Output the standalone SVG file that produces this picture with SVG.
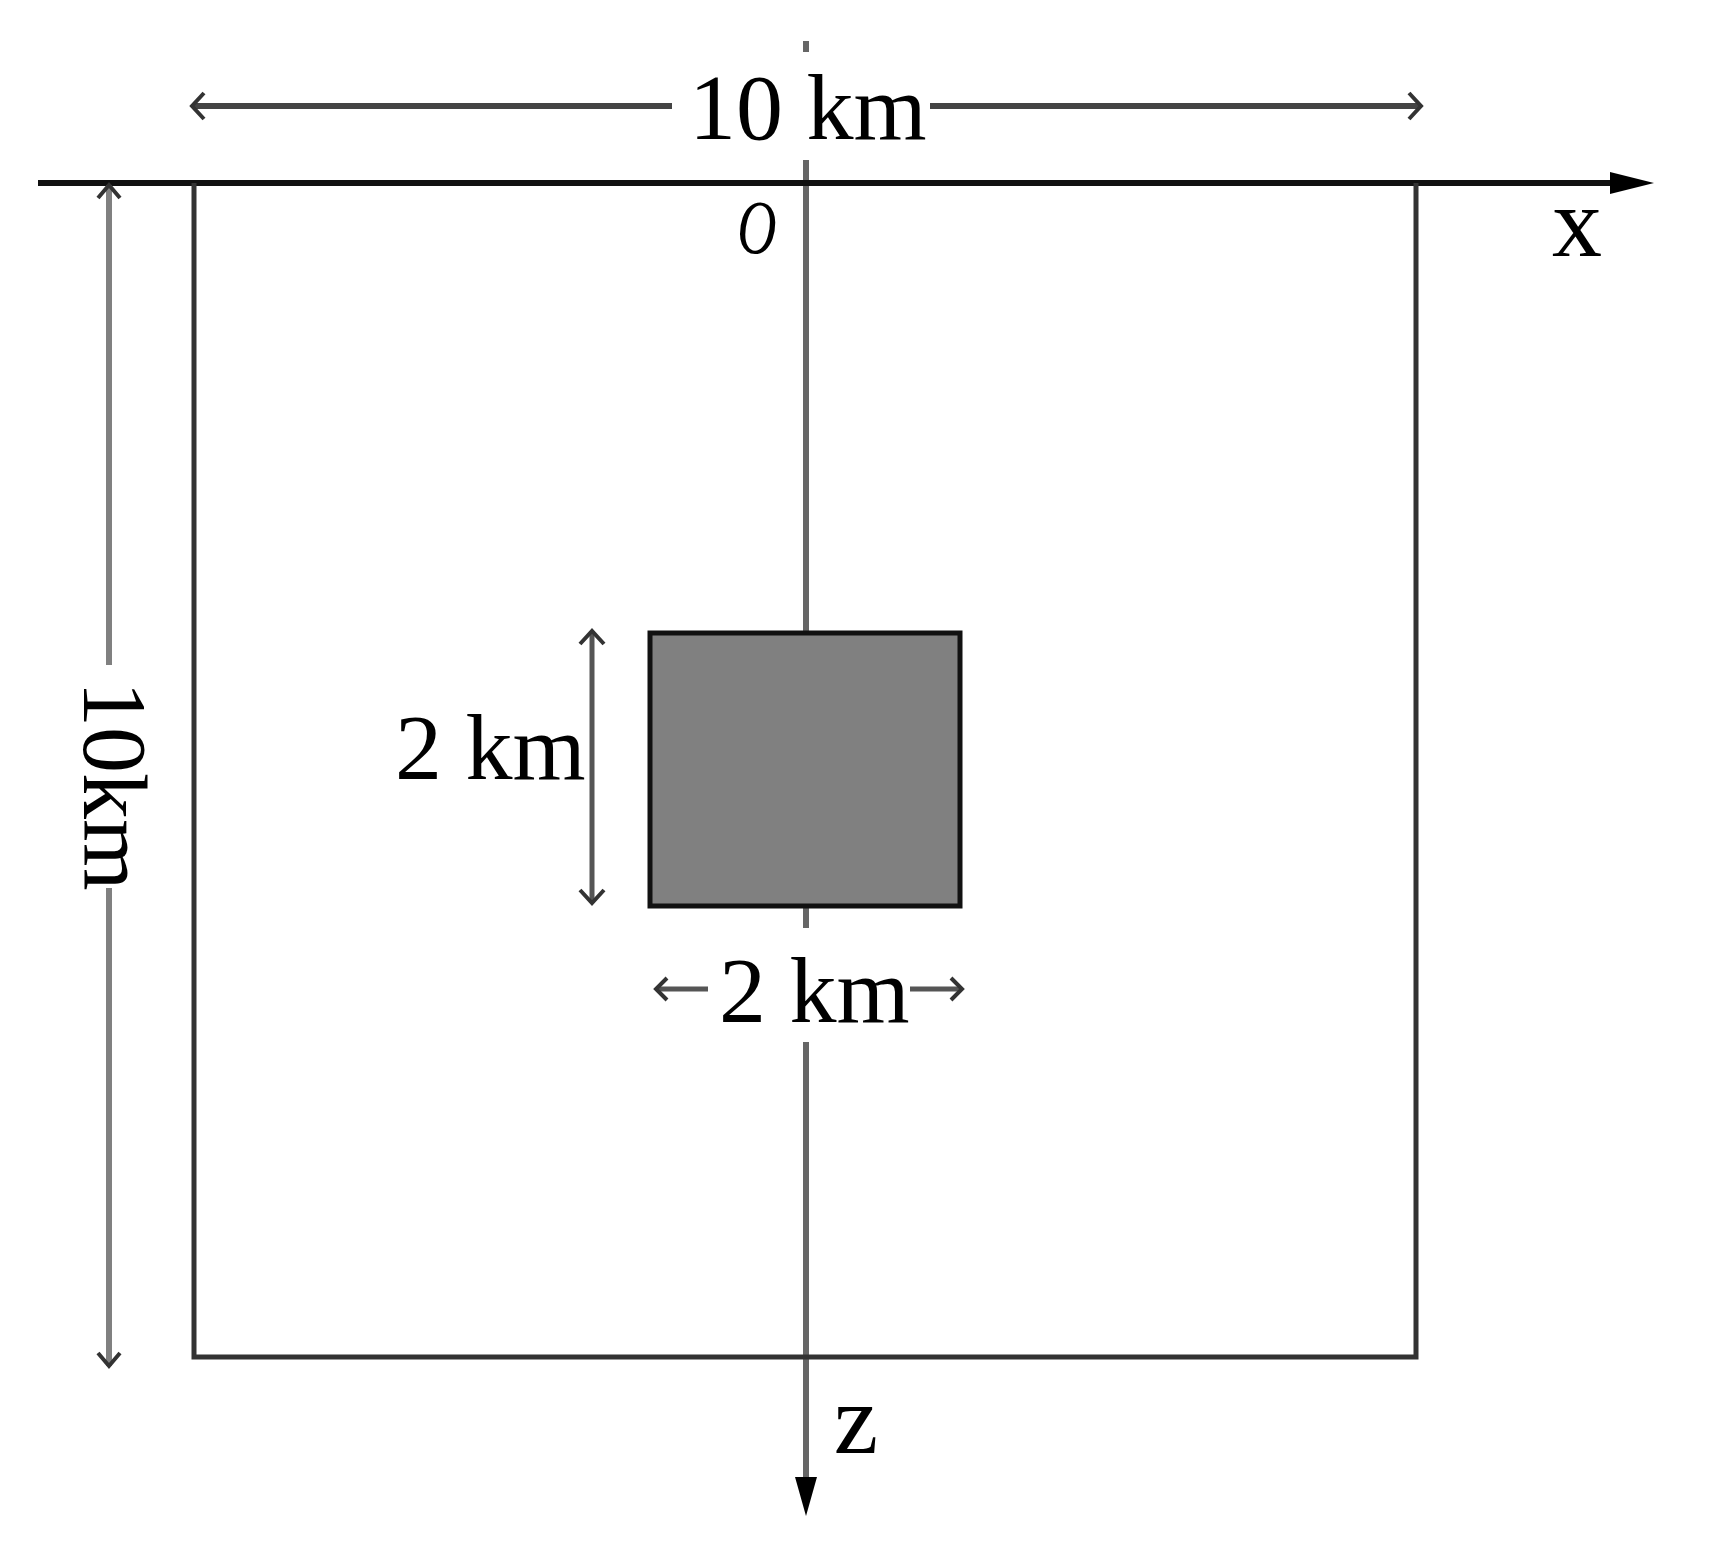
<svg xmlns="http://www.w3.org/2000/svg" width="1709" height="1557" viewBox="0 0 1709 1557">
<style>
.lbl{font-family:"Liberation Serif","Times New Roman",serif;fill:#000;}
.dim{fill:none;stroke:#444;stroke-width:6;}
.dimg{fill:none;stroke:#808080;stroke-width:6;}
.head{fill:none;stroke:#333;stroke-width:4;}
.mask{fill:#fff;stroke:none;}
</style>
<rect width="1709" height="1557" fill="#fff"/>
<g id="connectors">
  <!-- z axis -->
  <line x1="806" y1="41" x2="806" y2="1480" stroke="#666" stroke-width="6"/>
  <polygon points="795,1477 817,1477 806,1516" fill="#000"/>
  <!-- x axis -->
  <line x1="38" y1="183" x2="1612" y2="183" stroke="#111" stroke-width="6"/>
  <polygon points="1610,172 1610,194 1654,183" fill="#000"/>
  <!-- top 10 km dimension -->
  <line x1="192" y1="106" x2="1421" y2="106" class="dim"/>
  <polyline points="204,93 192,106 204,119" class="head"/>
  <polyline points="1409,93 1421,106 1409,119" class="head"/>
  <!-- left 10 km dimension -->
  <line x1="109" y1="185" x2="109" y2="1366" class="dimg"/>
  <polyline points="98,198 109,185 120,198" class="head" stroke="#666"/>
  <polyline points="98,1353 109,1366 120,1353" class="head" stroke="#666"/>
  <!-- vertical 2 km dimension -->
  <line x1="592" y1="631" x2="592" y2="903" stroke="#555" stroke-width="5"/>
  <polyline points="580,644 592,631 604,644" class="head"/>
  <polyline points="580,890 592,903 604,890" class="head"/>
</g>
<g id="frame">
  <polyline points="194,183 194,1357 1416,1357 1416,183" fill="none" stroke="#333" stroke-width="5"/>
</g>
<g id="block">
  <rect x="650" y="633" width="310" height="273" fill="#808080" stroke="#111" stroke-width="5"/>
</g>
<g id="label-top">
  <rect x="672" y="52" width="258" height="108" class="mask"/>
  <text x="689" y="139" class="lbl" font-size="94">10 km</text>
</g>
<g id="label-left">
  <rect x="78" y="665" width="70" height="223" class="mask"/>
  <text transform="translate(84,681) rotate(90)" class="lbl" font-size="92">10km</text>
</g>
<g id="label-2km-v">
  <text x="395" y="779" class="lbl" font-size="94">2 km</text>
</g>
<g id="label-2km-h">
  <rect x="645" y="928" width="325" height="114" class="mask"/>
  <line x1="656" y1="989" x2="708" y2="989" stroke="#555" stroke-width="5"/>
  <polyline points="667,978 656,989 667,1000" class="head"/>
  <line x1="910" y1="989" x2="962" y2="989" stroke="#555" stroke-width="5"/>
  <polyline points="951,978 962,989 951,1000" class="head"/>
  <text x="719" y="1022" class="lbl" font-size="94">2 km</text>
</g>
<g id="label-origin">
  <text x="757" y="253" class="lbl" font-size="64" font-style="italic" text-anchor="middle" transform="translate(757,253) scale(0.85,1.2) translate(-757,-253)">O</text>
</g>
<g id="label-x">
  <text x="1577" y="256" class="lbl" font-size="100" text-anchor="middle">x</text>
</g>
<g id="label-z">
  <text x="856" y="1453" class="lbl" font-size="100" text-anchor="middle">z</text>
</g>
</svg>
